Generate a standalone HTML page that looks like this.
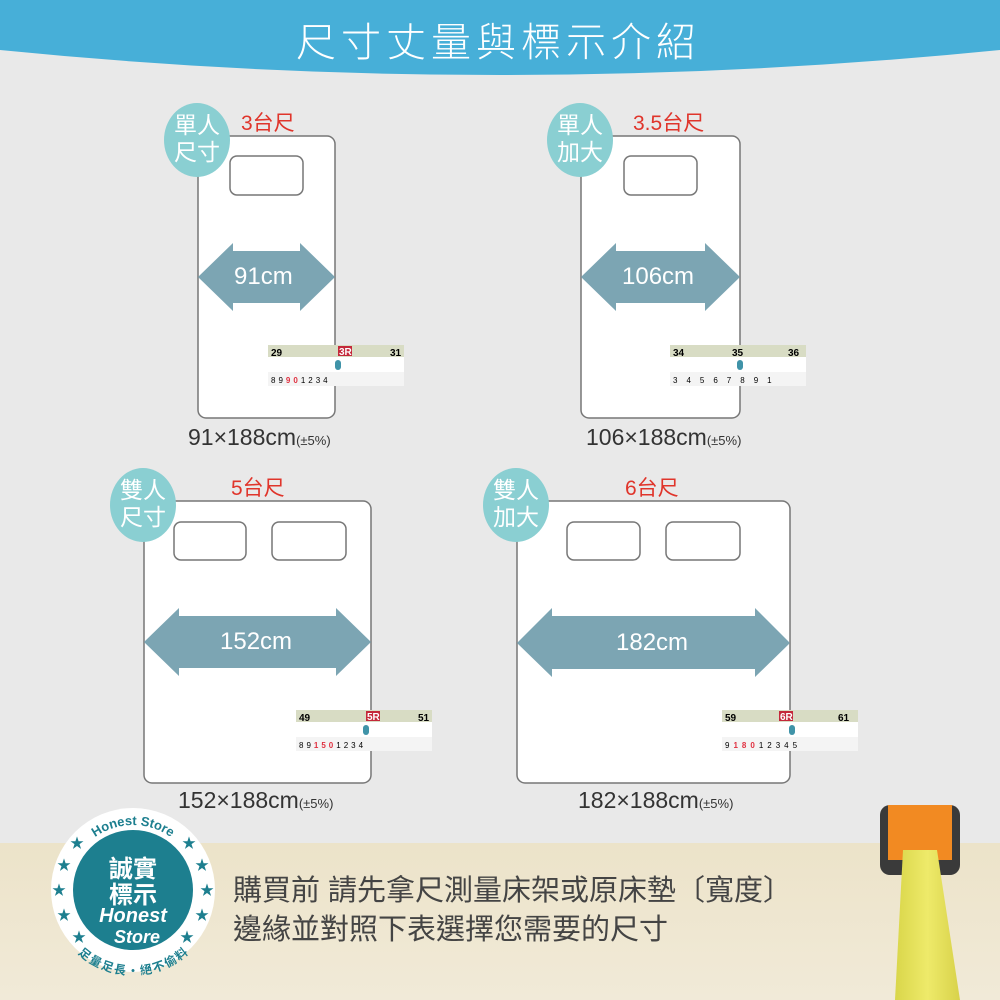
<!DOCTYPE html>
<html><head><meta charset="utf-8"><style>
html,body{margin:0;padding:0}
body{width:1000px;height:1000px;overflow:hidden;position:relative;background:#e9e9e9;font-family:"Liberation Sans","Noto Sans CJK TC",sans-serif}
.t{position:absolute;white-space:nowrap}
.c{position:absolute;font-size:23px;line-height:27px;color:#fff;text-align:center;width:56px}
</style></head><body>
<svg width="1000" height="1000" style="position:absolute;left:0;top:0" xmlns="http://www.w3.org/2000/svg">
<defs>
<linearGradient id="fl" x1="0" y1="0" x2="0" y2="1"><stop offset="0" stop-color="#ece3c9"/><stop offset="1" stop-color="#f1ead8"/></linearGradient>
<linearGradient id="tp" x1="0" y1="0" x2="1" y2="0"><stop offset="0" stop-color="#d9d64a"/><stop offset=".5" stop-color="#eeea6a"/><stop offset="1" stop-color="#d8d24a"/></linearGradient>
<g id="rul">
<rect x="0" y="0" width="136" height="41" fill="#fff"/>
<rect x="0" y="0" width="136" height="12" fill="#d8dcc4"/>
<rect x="0" y="27" width="136" height="14" fill="#f4f4f4"/>
<rect x="67" y="15" width="6" height="10" rx="3" fill="#3f93a8"/>
</g>
<path id="arcT" d="M68,890 A65,65 0 0 1 198,890"/>
<path id="arcB" d="M62,905 A72,72 0 0 0 204,905"/>
</defs>
<path d="M0,0H1000V50Q500,100 0,50Z" fill="#47afd8"/>
<rect x="0" y="843" width="1000" height="157" fill="url(#fl)"/>
<rect x="880" y="805" width="80" height="70" rx="10" fill="#3a3a3a"/>
<rect x="888" y="805" width="64" height="55" fill="#f28a22"/>
<path d="M903,850 L937,850 L960,1000 L895,1000 Z" fill="url(#tp)"/>
<g fill="#fff" stroke="#777" stroke-width="1.5">
<rect x="198" y="136" width="137" height="282" rx="8"/>
<rect x="581" y="136" width="159" height="282" rx="8"/>
<rect x="144" y="501" width="227" height="282" rx="8"/>
<rect x="517" y="501" width="273" height="282" rx="8"/>
<rect x="230" y="156" width="73" height="39" rx="7"/>
<rect x="624" y="156" width="73" height="39" rx="7"/>
<rect x="174" y="522" width="72" height="38" rx="7"/>
<rect x="272" y="522" width="74" height="38" rx="7"/>
<rect x="567" y="522" width="73" height="38" rx="7"/>
<rect x="666" y="522" width="74" height="38" rx="7"/>
</g>
<g fill="#7ca5b3">
<path d="M198,277 L233,243 L233,251 L300,251 L300,243 L335,277 L300,311 L300,303 L233,303 L233,311Z"/>
<path d="M581,277 L616,243 L616,251 L705,251 L705,243 L740,277 L705,311 L705,303 L616,303 L616,311Z"/>
<path d="M144,642 L179,608 L179,616 L336,616 L336,608 L371,642 L336,676 L336,668 L179,668 L179,676Z"/>
<path d="M517,643 L552,608 L552,616 L755,616 L755,608 L790,643 L755,677 L755,669 L552,669 L552,677Z"/>
</g>
<use href="#rul" x="268" y="345"/><use href="#rul" x="670" y="345"/>
<use href="#rul" x="296" y="710"/><use href="#rul" x="722" y="710"/>
<g font-size="10" font-weight="bold" font-family="Liberation Sans">
<text x="271" y="356">29</text><rect x="338" y="346" width="14" height="10" fill="#c4283a"/><text x="339" y="355" fill="#fff">3R</text><text x="390" y="356">31</text>
<text x="271" y="383" font-weight="normal" font-size="8" letter-spacing="3">89<tspan fill="#e03040" font-weight="bold">90</tspan>1234</text>
<text x="673" y="356">34</text><text x="732" y="356">35</text><text x="788" y="356">36</text>
<text x="673" y="383" font-weight="normal" font-size="8" letter-spacing="9">34567891</text>
<text x="299" y="721">49</text><rect x="366" y="711" width="14" height="10" fill="#c4283a"/><text x="367" y="720" fill="#fff">5R</text><text x="418" y="721">51</text>
<text x="299" y="748" font-weight="normal" font-size="8" letter-spacing="3">89<tspan fill="#e03040" font-weight="bold">150</tspan>1234</text>
<text x="725" y="721">59</text><rect x="779" y="711" width="14" height="10" fill="#c4283a"/><text x="780" y="720" fill="#fff">6R</text><text x="838" y="721">61</text>
<text x="725" y="748" font-weight="normal" font-size="8" letter-spacing="4">9<tspan fill="#e03040" font-weight="bold">180</tspan>12345</text>
</g>
<g fill="#8acfd2">
<ellipse cx="197" cy="140" rx="33" ry="37"/><ellipse cx="580" cy="140" rx="33" ry="37"/>
<ellipse cx="143" cy="505" rx="33" ry="37"/><ellipse cx="516" cy="505" rx="33" ry="37"/>
</g>
<circle cx="133" cy="890" r="82" fill="#fff"/>
<circle cx="133" cy="890" r="60" fill="#1d7f8f"/>
<g fill="#1d7f8f" font-size="14">
<text x="52" y="895">★</text><text x="200" y="895">★</text><text x="57" y="870">★</text><text x="195" y="870">★</text>
<text x="57" y="920">★</text><text x="195" y="920">★</text><text x="70" y="848">★</text><text x="182" y="848">★</text>
<text x="72" y="942">★</text><text x="180" y="942">★</text>
</g>
<text font-size="13" fill="#1d7f8f" font-weight="bold"><textPath href="#arcT" startOffset="50%" text-anchor="middle">Honest Store</textPath></text>
<text font-size="12" fill="#1d7f8f" font-weight="bold" font-family="Liberation Sans,Noto Sans CJK TC,sans-serif" dy="10"><textPath href="#arcB" startOffset="50%" text-anchor="middle">足量足長・絕不偷料</textPath></text>
<g fill="#fff" text-anchor="middle" font-family="Liberation Sans,Noto Sans CJK TC,sans-serif" font-weight="bold">
<text x="133" y="877" font-size="24">誠實</text><text x="133" y="903" font-size="24">標示</text>
<text x="133" y="922" font-size="20" font-style="italic">Honest</text><text x="137" y="943" font-size="18" font-style="italic">Store</text>
</g>
</svg>
<div class="t" style="left:296px;top:10px;font-size:40px;color:#fff;letter-spacing:5px;font-weight:300">尺寸丈量與標示介紹</div>
<div class="c" style="left:169px;top:112px">單人<br>尺寸</div>
<div class="c" style="left:552px;top:112px">單人<br>加大</div>
<div class="c" style="left:115px;top:477px">雙人<br>尺寸</div>
<div class="c" style="left:488px;top:477px">雙人<br>加大</div>
<div class="t" style="left:241px;top:107px;font-size:21px;color:#e0352b">3台尺</div>
<div class="t" style="left:633px;top:107px;font-size:21px;color:#e0352b">3.5台尺</div>
<div class="t" style="left:231px;top:472px;font-size:21px;color:#e0352b">5台尺</div>
<div class="t" style="left:625px;top:472px;font-size:21px;color:#e0352b">6台尺</div>
<div class="t" style="left:234px;top:263px;font-size:24px;color:#fff">91cm</div>
<div class="t" style="left:622px;top:263px;font-size:24px;color:#fff">106cm</div>
<div class="t" style="left:220px;top:628px;font-size:24px;color:#fff">152cm</div>
<div class="t" style="left:616px;top:629px;font-size:24px;color:#fff">182cm</div>
<div class="t" style="left:188px;top:424px;font-size:23px;color:#333">91×188cm<span style="font-size:13px">(±5%)</span></div>
<div class="t" style="left:586px;top:424px;font-size:23px;color:#333">106×188cm<span style="font-size:13px">(±5%)</span></div>
<div class="t" style="left:178px;top:787px;font-size:23px;color:#333">152×188cm<span style="font-size:13px">(±5%)</span></div>
<div class="t" style="left:578px;top:787px;font-size:23px;color:#333">182×188cm<span style="font-size:13px">(±5%)</span></div>
<div class="t" style="left:233px;top:872px;font-size:29px;line-height:39px;color:#444">購買前 請先拿尺測量床架或原床墊〔寬度〕<br>邊緣並對照下表選擇您需要的尺寸</div>
</body></html>
